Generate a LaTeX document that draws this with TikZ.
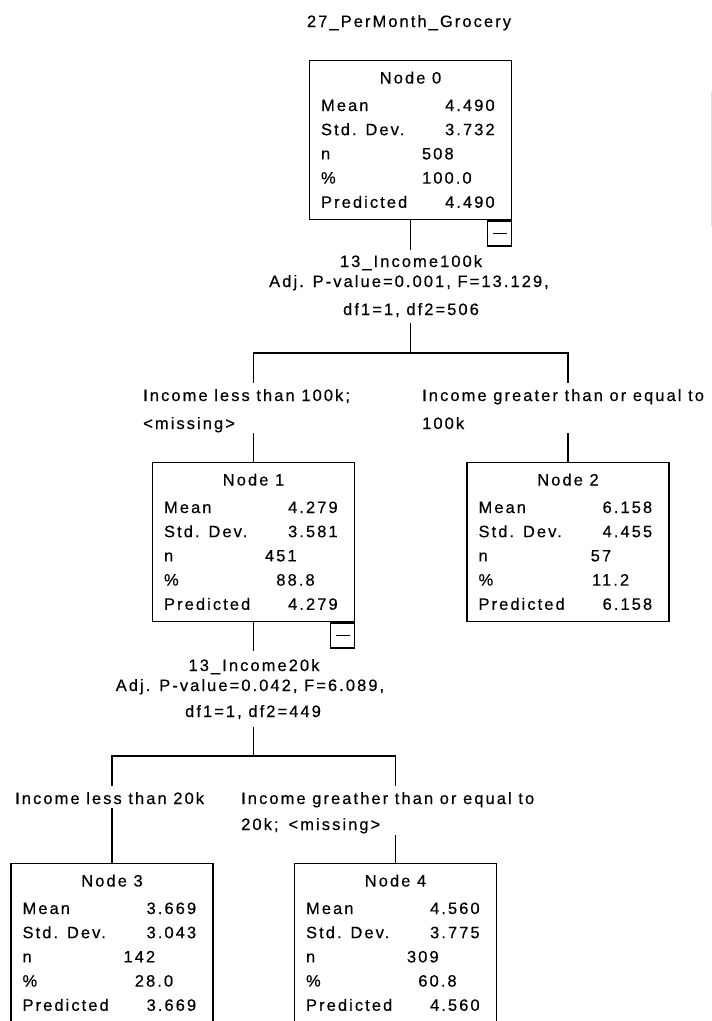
\documentclass[tikz,border=0pt]{standalone}
\usepackage{fontspec}
\setmainfont{Liberation Sans}[LetterSpace=12.5, FakeBold=0.4]
\usetikzlibrary{calc}

% One statistics box of the regression tree:
% #1 name, #2 centre x, #3 top y, #4 title, #5 mean, #6 std. dev., #7 n, #8 percent, #9 predicted
\newcommand\statbox[9]{%
  \node[curbox] (#1) at (#2,#3) {};
  \node[anchor=base] (#1-t) at ($(#1.north)+(0,23.5)$) {#4};
  \node[lab] (#1-l0) at ($(#1.north west)+(12,51)$) {Mean};
  \node[lab] (#1-l1) at ($(#1.north west)+(12,75.2)$) {Std. Dev.};
  \node[lab] (#1-l2) at ($(#1.north west)+(12,99.4)$) {n};
  \node[lab] (#1-l3) at ($(#1.north west)+(12,123.6)$) {\%};
  \node[lab] (#1-l4) at ($(#1.north west)+(12,147.8)$) {Predicted};
  \node[val] (#1-v0) at ($(#1.north west)+(186,51)$) {#5};
  \node[val] (#1-v1) at ($(#1.north west)+(186,75.2)$) {#6};
  \node[val] (#1-v2) at ($(#1.north west)+(145,99.4)$) {#7};
  \node[val] (#1-v3) at ($(#1.north west)+(163,123.6)$) {#8};
  \node[val] (#1-v4) at ($(#1.north west)+(186,147.8)$) {#9};
}

\begin{document}
\begin{tikzpicture}[x=1pt,y=-1pt,
  every node/.style={inner sep=0pt, font=\fontsize{16.5}{19}\selectfont},
  boxline/.style={draw, line width=1.3pt, minimum width=202pt, anchor=north},
  statbox/.style={boxline, minimum height=159pt},
  tallbox/.style={boxline, minimum height=175pt},
  curbox/.style={statbox},
  minusbox/.style={draw, line width=1.3pt, minimum width=24pt, minimum height=25pt, anchor=north east},
  lab/.style={anchor=base west},
  val/.style={anchor=base east},
  conn/.style={line width=1.3pt}]
\useasboundingbox (0,0) rectangle (712,1021);
\clip (0,0) rectangle (712,1021);
\fill[white] (0,0) rectangle (712,1021);

% faint edge of a side panel
\draw[gray!25, line width=1pt] (711,92) -- (711,226);

% title of the dependent variable
\node[anchor=base] (title) at (409,27) {27\_PerMonth\_Grocery};

% tree nodes
\statbox{n0}{410.5}{60}{Node 0}{4.490}{3.732}{508}{100.0}{4.490}
\statbox{n1}{253.5}{462}{Node 1}{4.279}{3.581}{451}{88.8}{4.279}
\statbox{n2}{568}{462}{Node 2}{6.158}{4.455}{57}{11.2}{6.158}
\tikzset{curbox/.style={tallbox}}
\statbox{n3}{112}{863}{Node 3}{3.669}{3.043}{142}{28.0}{3.669}
\statbox{n4}{395.5}{863}{Node 4}{4.560}{3.775}{309}{60.8}{4.560}

% collapse buttons
\node[minusbox] (n0m) at (n0.south east) {};
\draw[line width=1.2pt] ($(n0m.center)+(-7,0)$) -- ($(n0m.center)+(7,0)$);
\node[minusbox] (n1m) at (n1.south east) {};
\draw[line width=1.2pt] ($(n1m.center)+(-7,0)$) -- ($(n1m.center)+(7,0)$);

% first split
\node[anchor=base] (s0a) at (411,267) {13\_Income100k};
\node[anchor=base] (s0b) at (409,287) {Adj. P-value=0.001, F=13.129,};
\node[anchor=base] (s0c) at (411,315) {df1=1, df2=506};
\node[lab] (e1a) at (143,401) {Income less than 100k;};
\node[lab] (e1b) at (143,429) {<missing>};
\node[lab] (e2a) at (422,401) {Income greater than or equal to};
\node[lab] (e2b) at (422,429) {100k};

% second split
\node[anchor=base] (s1a) at (254,671) {13\_Income20k};
\node[anchor=base] (s1b) at (250,691) {Adj. P-value=0.042, F=6.089,};
\node[anchor=base] (s1c) at (253,717) {df1=1, df2=449};
\node[lab] (e3a) at (15,804) {Income less than 20k};
\node[lab] (e4a) at (241,804) {Income greather than or equal to};
\node[lab] (e4b) at (241,830) {20k;\hspace{10pt}<missing>};

% connector points
\coordinate (c0t) at (410.5,250);
\coordinate (c0b) at (410.5,323);
\coordinate (c0h) at (410.5,353);
\coordinate (c1t) at (253.5,383);
\coordinate (c2t) at (568,383);
\coordinate (c1b) at (253.5,433);
\coordinate (c2b) at (568,433);
\coordinate (d0t) at (253.5,651);
\coordinate (d0b) at (253.5,727);
\coordinate (d0h) at (253.5,756);
\coordinate (d3t) at (112,786);
\coordinate (d4t) at (395.5,786);
\coordinate (d3b) at (112,808);
\coordinate (d4b) at (395.5,835);

% connectors
\draw[conn] (n0.south) -- (c0t);
\draw[conn] (c0b) -- (c0h);
\draw[conn] (c1t) |- (c0h) -| (c2t);
\draw[conn] (c1b) -- (n1.north);
\draw[conn] (c2b) -- (n2.north);
\draw[conn] (n1.south) -- (d0t);
\draw[conn] (d0b) -- (d0h);
\draw[conn] (d3t) |- (d0h) -| (d4t);
\draw[conn] (d3b) -- (n3.north);
\draw[conn] (d4b) -- (n4.north);
\end{tikzpicture}
\end{document}
